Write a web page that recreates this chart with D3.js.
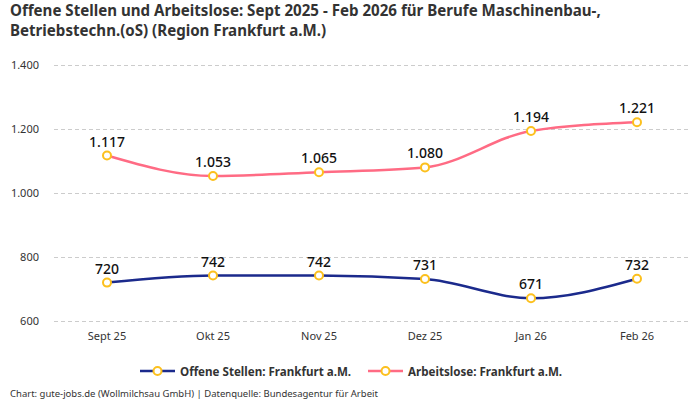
<!DOCTYPE html>
<html><head><meta charset="utf-8">
<script src="https://cdn.jsdelivr.net/npm/d3@7"></script>
<style>
body{margin:0;background:#fff;}
svg{display:block;}
</style></head>
<body><svg id="c" width="700" height="400"></svg>
<script>
const categories = ["Sept 25","Okt 25","Nov 25","Dez 25","Jan 26","Feb 26"];
const offeneStellen = [720,742,742,731,671,732];
const arbeitslose = [1117,1053,1065,1080,1194,1221];
const yTicks = [600,800,1000,1200,1400];
const seriesNames = ["Offene Stellen: Frankfurt a.M.","Arbeitslose: Frankfurt a.M."];
const titleLines = ["Offene Stellen und Arbeitslose: Sept 2025 - Feb 2026 für Berufe Maschinenbau-,","Betriebstechn.(oS) (Region Frankfurt a.M.)"];
const footer = "Chart: gute-jobs.de (Wollmilchsau GmbH) | Datenquelle: Bundesagentur für Arbeit";

const colors = ["#1b2a8c","#ff6b84"];
const markerColor = "#fcc01e";
const fontMain = "'Noto Sans', sans-serif";
const svg = d3.select("#c");

const x = d3.scaleBand().domain(categories).range([54,690]);
const y = d3.scaleLinear().domain([600,1400]).range([321,65]);

// title
svg.append("g").selectAll("text").data(titleLines).join("text")
  .attr("x",10).attr("y",(d,i)=>16+i*20)
  .attr("font-family",fontMain).attr("font-weight","bold").attr("font-size",15.1)
  .attr("fill","#333").text(d=>d);

// grid
const yAxis = d3.axisLeft(y).tickValues(yTicks).tickSize(-(690-54)).tickFormat(d=>d3.format(",")(d).replace(/,/g,"."));
const gy = svg.append("g").attr("transform","translate(54,0)").call(yAxis);
gy.select(".domain").remove();
gy.selectAll(".tick line").attr("stroke","#cccccc").attr("stroke-dasharray","4,3");
gy.selectAll(".tick text").attr("x",-15).attr("font-family",fontMain).attr("font-size",11).attr("fill","#333");

const xAxis = d3.axisBottom(x).tickSize(0);
const gx = svg.append("g").attr("transform","translate(0,329)").call(xAxis);
gx.select(".domain").remove();
gx.selectAll(".tick text").attr("font-family",fontMain).attr("font-size",11).attr("fill","#333");

const all = [offeneStellen, arbeitslose];
const line = d3.line().x((d,i)=>x(categories[i])+x.bandwidth()/2).y(d=>y(d)).curve(d3.curveMonotoneX);
all.forEach((vals,k)=>{
  svg.append("path").datum(vals).attr("d",line).attr("fill","none").attr("stroke",colors[k]).attr("stroke-width",2.5);
});
all.forEach((vals,k)=>{
  svg.append("g").selectAll("circle").data(vals).join("circle")
    .attr("cx",(d,i)=>x(categories[i])+x.bandwidth()/2).attr("cy",d=>y(d)).attr("r",4)
    .attr("fill","#fff").attr("stroke",markerColor).attr("stroke-width",2);
  svg.append("g").selectAll("text").data(vals).join("text")
    .attr("x",(d,i)=>x(categories[i])+x.bandwidth()/2).attr("y",d=>y(d)-9)
    .attr("text-anchor","middle").attr("font-family",fontMain).attr("font-size",14).attr("font-weight",500)
    .attr("fill","#111").text(d=>d3.format(",")(d).replace(/,/g,"."));
});

// legend
const legX = [140,368];
seriesNames.forEach((n,k)=>{
  const g = svg.append("g").attr("transform",`translate(${legX[k]},371)`);
  g.append("line").attr("x1",0).attr("x2",35).attr("stroke",colors[k]).attr("stroke-width",2.5);
  g.append("circle").attr("cx",17.5).attr("r",4).attr("fill","#fff").attr("stroke",markerColor).attr("stroke-width",2);
  g.append("text").attr("x",40).attr("y",4.5).attr("font-family",fontMain).attr("font-weight","bold").attr("font-size",11.6).attr("fill","#333").text(n);
});

svg.append("text").attr("x",10).attr("y",397).attr("font-family",fontMain).attr("font-size",9.5).attr("fill","#333").text(footer);
</script></body></html>
